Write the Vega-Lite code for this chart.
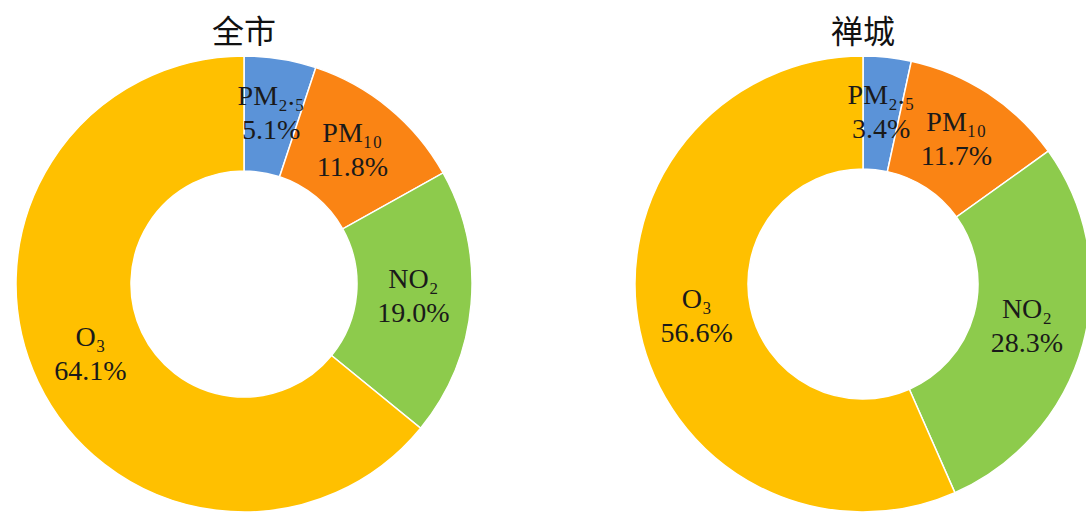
{
  "$schema": "https://vega.github.io/schema/vega-lite/v6.json",
  "background": "white",
  "padding": {"left": 13, "top": 17, "right": 0, "bottom": 0},
  "spacing": 157,
  "config": {
    "view": {"stroke": null},
    "title": {"font": "Noto Sans CJK SC", "fontSize": 32, "fontWeight": "normal", "color": "#111111", "offset": 3, "anchor": "middle"}
  },
  "data": {
    "values": [
      {"city": "全市", "rank": 1, "pollutant": "PM₂.₅", "share": 0.051},
      {"city": "全市", "rank": 2, "pollutant": "PM₁₀", "share": 0.118},
      {"city": "全市", "rank": 3, "pollutant": "NO₂", "share": 0.190},
      {"city": "全市", "rank": 4, "pollutant": "O₃", "share": 0.641},
      {"city": "禅城", "rank": 1, "pollutant": "PM₂.₅", "share": 0.034},
      {"city": "禅城", "rank": 2, "pollutant": "PM₁₀", "share": 0.117},
      {"city": "禅城", "rank": 3, "pollutant": "NO₂", "share": 0.283},
      {"city": "禅城", "rank": 4, "pollutant": "O₃", "share": 0.566}
    ]
  },
  "hconcat": [
    {
      "title": "全市",
      "width": 456,
      "height": 456,
      "transform": [{"filter": "datum.city === '全市'"}],
      "encoding": {
        "theta": {"field": "share", "type": "quantitative", "stack": true},
        "order": {"field": "rank", "type": "ordinal"}
      },
      "layer": [
        {
          "mark": {"type": "arc", "outerRadius": 228, "innerRadius": 113, "stroke": "white", "strokeWidth": 1.5},
          "encoding": {
            "color": {"field": "pollutant", "type": "nominal", "legend": null,
              "scale": {"domain": ["PM₂.₅", "PM₁₀", "NO₂", "O₃"], "range": ["#5B93D8", "#FA8414", "#8DCB4C", "#FFC000"]}}
          }
        },
        {
          "mark": {"type": "text", "radius": 170, "dy": -19, "font": "Liberation Serif", "fontSize": 28, "color": "#1a1a1a"},
          "encoding": {"text": {"field": "pollutant", "type": "nominal"}}
        },
        {
          "mark": {"type": "text", "radius": 170, "dy": 15, "font": "Liberation Serif", "fontSize": 28, "color": "#1a1a1a"},
          "encoding": {"text": {"field": "share", "type": "quantitative", "format": ".1%"}}
        }
      ]
    },
    {
      "title": "禅城",
      "width": 456,
      "height": 456,
      "transform": [{"filter": "datum.city === '禅城'"}],
      "encoding": {
        "theta": {"field": "share", "type": "quantitative", "stack": true},
        "order": {"field": "rank", "type": "ordinal"}
      },
      "layer": [
        {
          "mark": {"type": "arc", "outerRadius": 228, "innerRadius": 115, "stroke": "white", "strokeWidth": 1.5},
          "encoding": {
            "color": {"field": "pollutant", "type": "nominal", "legend": null,
              "scale": {"domain": ["PM₂.₅", "PM₁₀", "NO₂", "O₃"], "range": ["#5B93D8", "#FA8414", "#8DCB4C", "#FFC000"]}}
          }
        },
        {
          "mark": {"type": "text", "radius": 170, "dy": -19, "font": "Liberation Serif", "fontSize": 28, "color": "#1a1a1a"},
          "encoding": {"text": {"field": "pollutant", "type": "nominal"}}
        },
        {
          "mark": {"type": "text", "radius": 170, "dy": 15, "font": "Liberation Serif", "fontSize": 28, "color": "#1a1a1a"},
          "encoding": {"text": {"field": "share", "type": "quantitative", "format": ".1%"}}
        }
      ]
    }
  ]
}
